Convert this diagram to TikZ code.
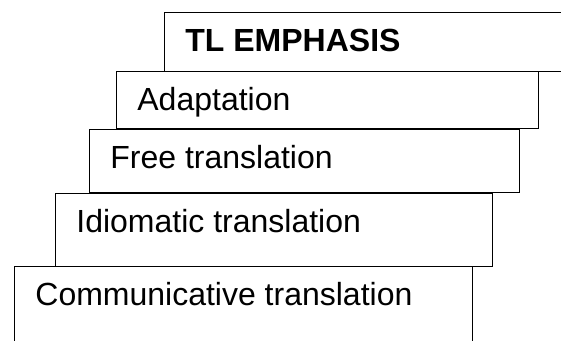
\documentclass[tikz,border=0pt]{standalone}
\usepackage{fontspec}
\setmainfont{Liberation Sans}
\begin{document}
\begin{tikzpicture}[x=0.5pt,y=-0.5pt,
    stepbox/.style={draw,fill=white,line width=0.7pt,inner sep=0pt,anchor=north west},
    steptext/.style={anchor=base west,inner sep=0pt,font=\fontsize{16}{19}\selectfont}]
  \useasboundingbox (0,0) rectangle (561,341);
  \clip (0,0) rectangle (561,341);
  \foreach \x/\l/\t/\w/\h/\txt in{1/164/12/436/59/\textbf{TL EMPHASIS}, 2/116/71/422/57/Adaptation, 3/89/129/430/63/Free translation, 4/55/193/437/73/Idiomatic translation, 5/14/266/458/134/Communicative translation}{
    \node(B\x)[stepbox,minimum width=\w*0.5pt,minimum height=\h*0.5pt] at (\l,\t) {};
    \node(T\x)[steptext] at ([shift={(21,40)}]B\x.north west) {\txt};
  }
\end{tikzpicture}
\end{document}
